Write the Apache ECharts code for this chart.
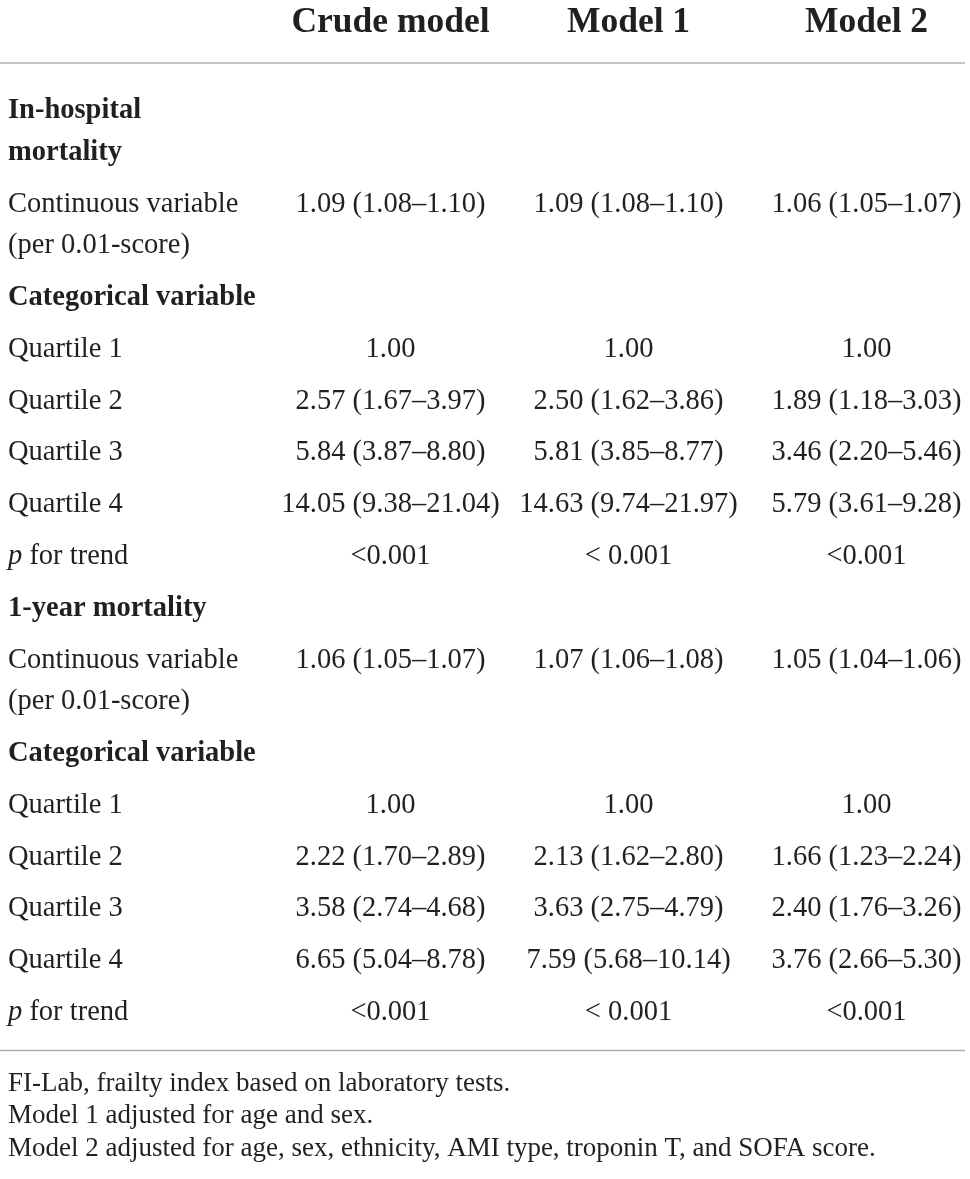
<!DOCTYPE html>
<html><head><meta charset="utf-8">
<script src="https://cdn.jsdelivr.net/npm/echarts@6/dist/echarts.min.js"></script>
<style>html,body{margin:0;padding:0;background:#fff}#c{width:970px;height:1179px}</style>
</head><body><div id="c"></div>
<script>
// ---------- data ----------
const columns = ['Crude model', 'Model 1', 'Model 2'];
const rowLabels = [
  'In-hospital\nmortality',
  'Continuous variable\n(per 0.01-score)',
  'Categorical variable',
  'Quartile 1',
  'Quartile 2',
  'Quartile 3',
  'Quartile 4',
  'p for trend',
  '1-year mortality',
  'Continuous variable\n(per 0.01-score)',
  'Categorical variable',
  'Quartile 1',
  'Quartile 2',
  'Quartile 3',
  'Quartile 4',
  'p for trend'
];
const rowKinds = ['section','item','section','item','item','item','item','trend',
                  'section','item','section','item','item','item','item','trend'];
const crude = ['', '1.09 (1.08–1.10)', '', '1.00', '2.57 (1.67–3.97)', '5.84 (3.87–8.80)', '14.05 (9.38–21.04)', '<0.001',
               '', '1.06 (1.05–1.07)', '', '1.00', '2.22 (1.70–2.89)', '3.58 (2.74–4.68)', '6.65 (5.04–8.78)', '<0.001'];
const model1 = ['', '1.09 (1.08–1.10)', '', '1.00', '2.50 (1.62–3.86)', '5.81 (3.85–8.77)', '14.63 (9.74–21.97)', '< 0.001',
                '', '1.07 (1.06–1.08)', '', '1.00', '2.13 (1.62–2.80)', '3.63 (2.75–4.79)', '7.59 (5.68–10.14)', '< 0.001'];
const model2 = ['', '1.06 (1.05–1.07)', '', '1.00', '1.89 (1.18–3.03)', '3.46 (2.20–5.46)', '5.79 (3.61–9.28)', '<0.001',
                '', '1.05 (1.04–1.06)', '', '1.00', '1.66 (1.23–2.24)', '2.40 (1.76–3.26)', '3.76 (2.66–5.30)', '<0.001'];
const footnotes = [
  'FI-Lab, frailty index based on laboratory tests.',
  'Model 1 adjusted for age and sex.',
  'Model 2 adjusted for age, sex, ethnicity, AMI type, troponin T, and SOFA score.'
];

// ---------- layout ----------
const W = 970, H = 1179;
const FONT = "'Liberation Serif', 'DejaVu Serif', serif";
const INK = '#231f20';
const firstRowY = 111, rowGap = 51.8, lineGap = 41.5;
const rowY = [];
(function () {
  let y = firstRowY;
  rowLabels.forEach(function (l) {
    rowY.push(y);
    const n = l.split('\n').length;
    y += (n - 1) * lineGap + rowGap;
  });
})();
const lastLines = rowLabels[rowLabels.length - 1].split('\n').length;
const headerY = firstRowY - 88;
const ruleTop = firstRowY - 48;
const ruleBottom = rowY[rowY.length - 1] + (lastLines - 1) * lineGap + 38;
const footY0 = ruleBottom + 33, footGap = 32.5;

// x axis: column index -> centre
const colUnit = 238;
const xMin = 1 - 390.5 / colUnit;
const xMax = xMin + W / colUnit;
const labelPad = 8;
const bodySize = 28.5;
const cols = [crude, model1, model2];

function labelText(kind, txt) {
  if (kind === 'trend') return '{i|p}' + txt.slice(1);
  return txt;
}

const chart = echarts.init(document.getElementById('c'), null, { renderer: 'canvas' });
chart.setOption({
  animation: false,
  grid: { left: 0, right: 0, top: 0, bottom: 0 },
  xAxis: { type: 'value', min: xMin, max: xMax, show: false },
  yAxis: { type: 'value', min: 0, max: H, inverse: true, show: false },
  series: [
    { // header
      type: 'custom', silent: true,
      data: columns.map(function (c, i) { return [i + 1]; }),
      renderItem: function (params, api) {
        const i = params.dataIndex;
        const p = api.coord([api.value(0), headerY]);
        return { type: 'text', x: p[0], y: p[1],
          style: { text: columns[i], fontFamily: FONT, fontSize: 35.5, fontWeight: 'bold', fill: INK, align: 'center', verticalAlign: 'middle' } };
      }
    },
    { // rules
      type: 'custom', silent: true,
      data: [[ruleTop], [ruleBottom]],
      renderItem: function (params, api) {
        const a = api.coord([xMin, api.value(0)]);
        const b = api.coord([xMax, api.value(0)]);
        return { type: 'line', shape: { x1: a[0], y1: a[1], x2: b[0] - 5, y2: b[1] },
          style: { stroke: '#b0b0b0', lineWidth: 1.5 } };
      }
    },
    { // body rows
      type: 'custom', silent: true,
      data: rowLabels.map(function (l, i) { return [i]; }),
      renderItem: function (params, api) {
        const i = api.value(0);
        const y = rowY[i];
        const kind = rowKinds[i];
        const children = [];
        const left = api.coord([xMin, y])[0] + labelPad;
        rowLabels[i].split('\n').forEach(function (line, k) {
          const py = api.coord([xMin, y + k * lineGap])[1];
          children.push({ type: 'text', x: left, y: py,
            style: { text: labelText(kind, line), fontFamily: FONT, fontSize: bodySize,
              fontWeight: kind === 'section' ? 'bold' : 'normal', fill: INK, align: 'left', verticalAlign: 'middle',
              rich: { i: { fontStyle: 'italic', fontFamily: FONT, fontSize: bodySize, fill: INK } } } });
        });
        cols.forEach(function (arr, c) {
          if (!arr[i]) return;
          const p = api.coord([c + 1, y]);
          children.push({ type: 'text', x: p[0], y: p[1],
            style: { text: arr[i], fontFamily: FONT, fontSize: bodySize, fill: INK, align: 'center', verticalAlign: 'middle' } });
        });
        return { type: 'group', children: children };
      }
    },
    { // footnotes
      type: 'custom', silent: true,
      data: footnotes.map(function (f, i) { return [i]; }),
      renderItem: function (params, api) {
        const i = api.value(0);
        const p = api.coord([xMin, footY0 + i * footGap]);
        return { type: 'text', x: p[0] + labelPad, y: p[1],
          style: { text: footnotes[i], fontFamily: FONT, fontSize: 27, fill: INK, align: 'left', verticalAlign: 'middle' } };
      }
    }
  ]
});
</script>
</body></html>
